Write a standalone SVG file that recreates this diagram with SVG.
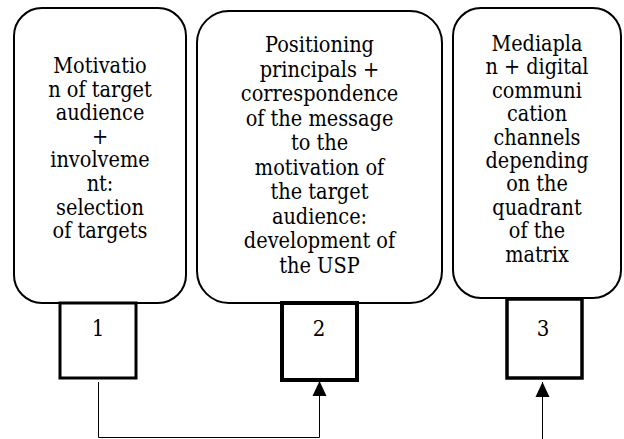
<svg xmlns="http://www.w3.org/2000/svg" width="624" height="439" viewBox="0 0 624 439">
<defs>
<style>
.big{fill:#fff;stroke:#000;stroke-width:2}
.small{fill:#fff;stroke:#000}
.t{font-family:'DejaVu Serif Condensed','DejaVu Serif',serif;fill:#000;text-anchor:middle}
.t1{font-size:21.5px}
.t2{font-size:21.5px}
.t3{font-size:21.4px}
.n{font-family:'DejaVu Serif Condensed','DejaVu Serif',serif;font-size:22px;fill:#000;text-anchor:middle}
.c{fill:none;stroke:#000;stroke-width:1}
</style>
<marker id="ah" markerUnits="userSpaceOnUse" markerWidth="16" markerHeight="16" viewBox="0 0 16 16" refX="15" refY="8" orient="auto">
<path d="M0,1 L15,8 L0,15 Z" fill="#000"/>
</marker>
</defs>
<rect width="624" height="439" fill="#fff"/>
<g id="node1">
<rect class="big" x="14" y="8" width="172" height="295" rx="28" ry="28"/>
<text class="t t1" x="100"><tspan x="100" y="73">Motivatio</tspan><tspan x="100" y="96.6">n of target</tspan><tspan x="100" y="120.2">audience</tspan><tspan x="100" y="143.8">+</tspan><tspan x="100" y="167.4">involveme</tspan><tspan x="100" y="191">nt:</tspan><tspan x="100" y="214.6">selection</tspan><tspan x="100" y="238.2">of targets</tspan></text>
</g>
<g id="node2">
<rect class="big" x="197" y="11" width="245" height="292" rx="32" ry="32"/>
<text class="t t2" x="319.5"><tspan x="319.5" y="52">Positioning</tspan><tspan x="319.5" y="76.5">principals +</tspan><tspan x="319.5" y="101">correspondence</tspan><tspan x="319.5" y="125.5">of the message</tspan><tspan x="319.5" y="150">to the</tspan><tspan x="319.5" y="174.5">motivation of</tspan><tspan x="319.5" y="199">the target</tspan><tspan x="319.5" y="223.5">audience:</tspan><tspan x="319.5" y="248">development of</tspan><tspan x="319.5" y="272.5">the USP</tspan></text>
</g>
<g id="node3">
<rect class="big" x="453" y="8" width="168" height="290" rx="28" ry="28"/>
<text class="t t3" x="537"><tspan x="537" y="51">Mediapla</tspan><tspan x="537" y="74.4">n + digital</tspan><tspan x="537" y="97.8">communi</tspan><tspan x="537" y="121.2">cation</tspan><tspan x="537" y="144.6">channels</tspan><tspan x="537" y="168">depending</tspan><tspan x="537" y="191.4">on the</tspan><tspan x="537" y="214.8">quadrant</tspan><tspan x="537" y="238.2">of the</tspan><tspan x="537" y="261.6">matrix</tspan></text>
</g>
<g id="box1">
<rect class="small" x="60" y="303" width="76" height="75" stroke-width="3"/>
<text class="n" x="98" y="336">1</text>
</g>
<g id="box2">
<rect class="small" x="282" y="303" width="75" height="77" stroke-width="4"/>
<text class="n" x="319" y="336">2</text>
</g>
<g id="box3">
<rect class="small" x="507" y="299" width="75" height="79" stroke-width="3.5"/>
<text class="n" x="543" y="336">3</text>
</g>
<g id="connectors">
<path class="c" d="M98.5,382 V437.5 H319.5 V381" marker-end="url(#ah)"/>
<path class="c" d="M542.5,439 V382" marker-end="url(#ah)"/>
</g>
</svg>
